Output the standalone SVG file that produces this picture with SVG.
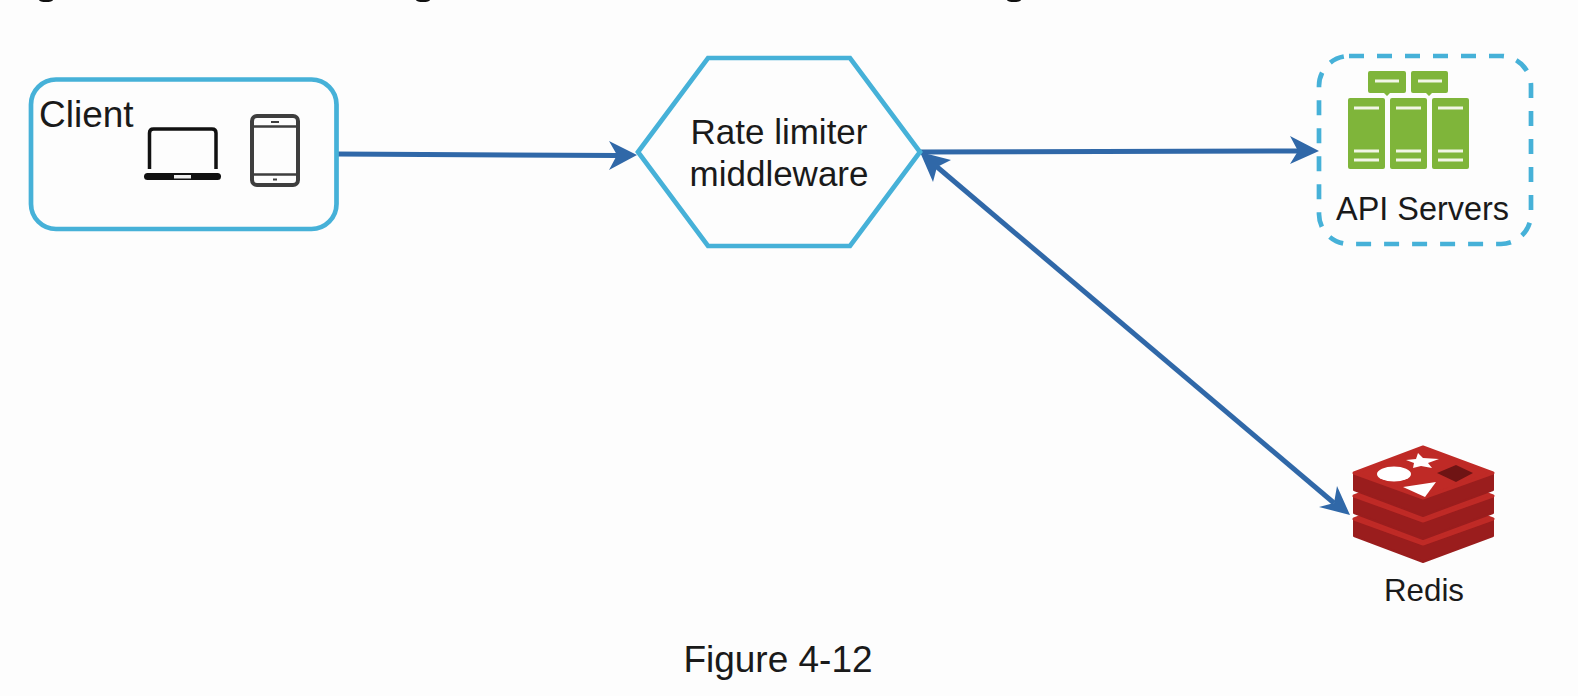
<svg xmlns="http://www.w3.org/2000/svg" width="1578" height="696" viewBox="0 0 1578 696">
<style>
text{font-family:"Liberation Sans",Arial,sans-serif;fill:#1a1a1a}
.b{fill:none;stroke:#46b1d8;stroke-width:4.700}
.c{fill:none;stroke:#3068a8;stroke-width:5}
.h{fill:#3068a8}
.g{fill:#7fb53a}
.w{stroke:#f2f6e6;stroke-width:2.800;fill:none}
.side{fill:#9a1d1d;stroke:#9a1d1d;stroke-width:2;stroke-linejoin:round}
.face{fill:#bf2a26;stroke:#bf2a26;stroke-width:3;stroke-linejoin:round}
.d{fill:#111}
</style>
<rect width="1578" height="696" fill="#fdfdfd"/>
<ellipse class="d" cx="46" cy="0" rx="7" ry="2"/>
<ellipse class="d" cx="423" cy="0" rx="7" ry="2"/>
<ellipse class="d" cx="1014" cy="0" rx="7" ry="2"/>
<g id="connectors">
<path class="c" d="M337 154L618 155.500"/>
<path class="h" d="M637 155L609 141L617 155L609 170Z"/>
<path class="c" d="M920 152L1298 151"/>
<path class="h" d="M1319 151L1290 136L1298 151L1290 164Z"/>
<path class="c" d="M936 166L1334 503"/>
<path class="h" d="M920 152L933 182L937 167L951 160Z"/>
<path class="h" d="M1350 515L1337 486L1334 503L1319 507Z"/>
</g>
<g id="client">
<rect class="b" x="31" y="79.500" width="305.500" height="149.500" rx="25"/>
<text x="39" y="127" font-size="37">Client</text>
<path d="M149.500 169V133Q149.500 129 153.500 129H212Q216 129 216 133V169" fill="none" stroke="#111" stroke-width="3.500"/>
<rect x="144" y="173" width="77" height="7" rx="3.500" fill="#111"/>
<rect x="174" y="175" width="17" height="3.500" fill="#eee"/>
<rect x="252" y="116" width="46" height="69" rx="5" fill="none" stroke="#3e3e3e" stroke-width="4"/>
<path d="M252 126.500H298M252 174.500H298" stroke="#3e3e3e" stroke-width="2.500"/>
<path d="M271 122H279M273 179.500H277" stroke="#3e3e3e" stroke-width="2"/>
</g>
<g id="rate-limiter">
<path class="b" d="M638 152L708 58H850L920 152L850 246H708Z"/>
<text x="779" y="143.500" font-size="35" text-anchor="middle">Rate limiter</text>
<text x="779" y="185.500" font-size="35" text-anchor="middle">middleware</text>
</g>
<g id="api-servers">
<rect x="1319" y="56" width="212" height="188" rx="30" fill="none" stroke="#46b1d8" stroke-width="4.700" stroke-dasharray="15 13"/>
<path class="g" d="M1368 73Q1368 71 1370 71H1404Q1406 71 1406 73V91Q1406 93 1404 93H1390L1387 96L1384 93H1370Q1368 93 1368 91Z"/>
<path class="g" d="M1411 73Q1411 71 1413 71H1446Q1448 71 1448 73V91Q1448 93 1446 93H1432L1429 96L1426 93H1413Q1411 93 1411 91Z"/>
<rect class="g" x="1348" y="98" width="37" height="71" rx="2"/>
<rect class="g" x="1390" y="98" width="37" height="71" rx="2"/>
<rect class="g" x="1432" y="98" width="37" height="71" rx="2"/>
<path class="w" d="M1375 81H1399M1418 81H1442M1354 108H1379M1396 108H1421M1438 108H1463M1354 151H1379M1396 151H1421M1438 151H1463M1354 160H1379M1396 160H1421M1438 160H1463"/>
<text x="1422.500" y="220" font-size="32.400" text-anchor="middle">API Servers</text>
</g>
<g id="redis">
<path class="side" d="M1354 519L1423 545L1493 519V536L1423 562L1354 536Z"/>
<path class="face" d="M1354 519L1423 493L1493 519L1423 544Z"/>
<path class="side" d="M1354 496L1423 522L1493 496V513L1423 539L1354 513Z"/>
<path class="face" d="M1354 496L1423 470L1493 496L1423 521Z"/>
<path class="side" d="M1354 473L1423 498L1493 473V490L1423 516L1354 490Z"/>
<path class="face" d="M1354 473L1423 447L1493 473L1423 498Z"/>
<ellipse cx="1394" cy="474" rx="17" ry="7.500" fill="#fff"/>
<path fill="#fff" d="M1418 453L1423 458L1439 459L1428 463L1432 468L1421 466L1413 468L1414 463L1406 460L1416 459Z"/>
<path fill="#fff" d="M1403 487L1436 482L1425 497Z"/>
<path fill="#6f1414" d="M1437 473L1456 465L1473 473L1456 482Z"/>
<text x="1424" y="601" font-size="31.300" text-anchor="middle">Redis</text>
</g>
<text id="caption" x="778" y="672" font-size="37" text-anchor="middle">Figure 4-12</text>
</svg>
